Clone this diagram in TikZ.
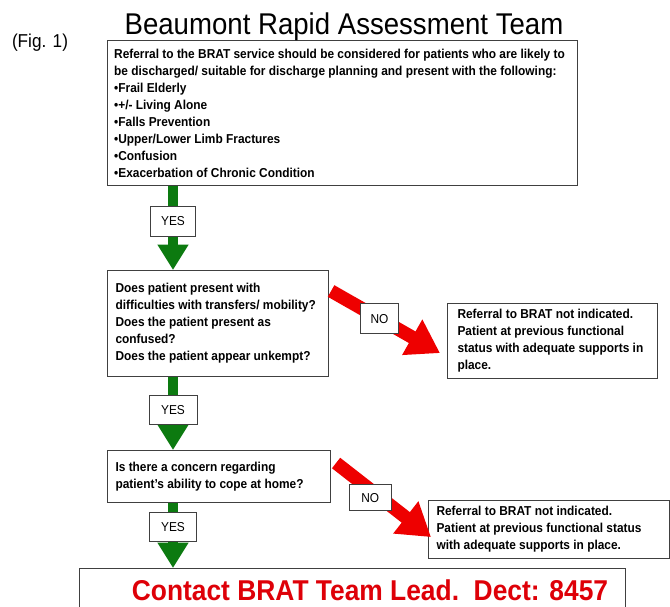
\documentclass[tikz,border=0pt]{standalone}
\usepackage{fontspec}
\setmainfont{Liberation Sans}[FakeStretch=0.92]
\usetikzlibrary{arrows.meta,calc}
\definecolor{bratgreen}{RGB}{12,122,16}
\definecolor{bratred}{RGB}{238,0,0}
\definecolor{leadred}{RGB}{222,0,8}

\begin{document}
\begin{tikzpicture}[x=0.75pt, y=-0.75pt,
  box/.style={draw=black!75, line width=0.8pt, fill=white, inner xsep=6pt, inner ysep=0pt,
    align=flush left, anchor=north west, font=\fontsize{9.7}{12.75}\selectfont\bfseries},
  tag/.style={draw=black!75, line width=0.7pt, fill=white, inner sep=0pt,
    minimum height=22pt, font=\fontsize{9.7}{11}\selectfont},
  yes/.style={draw=bratgreen, line width=7.5pt, -{Triangle[width=22pt, length=19pt]}},
  no/.style={draw=bratred, line width=10pt, -{Triangle[width=29pt, length=24pt]}}
]
\def\pxu{0.75pt}
\useasboundingbox (0,0) rectangle (670,606);

% === Boxes ===
\node[box, inner xsep=5pt, text width=456.5*\pxu, minimum height=145*\pxu] (referral) at (107,40)
  {Referral to the BRAT service should be considered for patients who are likely to\\
   be discharged/ suitable for discharge planning and present with the following:\\
   •Frail Elderly\\
   •+/- Living Alone\\
   •Falls Prevention\\
   •Upper/Lower Limb Fractures\\
   •Confusion\\
   •Exacerbation of Chronic Condition};

\node[box, text width=205*\pxu, minimum height=106*\pxu] (mobility) at (107,270)
  {Does patient present with\\
   difficulties with transfers/ mobility?\\
   Does the patient present as\\
   confused?\\
   Does the patient appear unkempt?};

\node[box, inner xsep=7.5pt, text width=190*\pxu, minimum height=75*\pxu] (notA) at (447,303)
  {Referral to BRAT not indicated.\\
   Patient at previous functional\\
   status with adequate supports in\\
   place.};

\node[box, text width=207*\pxu, minimum height=52*\pxu] (cope) at (107,450)
  {Is there a concern regarding\\
   patient’s ability to cope at home?};

\node[box, text width=225*\pxu, minimum height=58*\pxu] (notB) at (428,500)
  {Referral to BRAT not indicated.\\
   Patient at previous functional status\\
   with adequate supports in place.};

\node[box, text width=530*\pxu, minimum height=60*\pxu] (lead) at (79,568) {};
\node[font=\fontsize{21.5}{24}\selectfont\bfseries, text=leadred, anchor=base]
  (leadtext) at (370,600) {Contact BRAT Team Lead.\ \ Dect: 8457};

% === Headings ===
\node[font=\fontsize{14}{16}\selectfont, anchor=base] (fig) at (40,48) {(Fig. 1)};
\node[font=\fontsize{22.5}{26}\selectfont, anchor=base] (title) at (344,35)
  {Beaumont Rapid Assessment Team};

% === YES arrows ===
\coordinate (col) at (173,0);
\draw[yes] (referral.south -| col) -- node[tag, minimum width=45*\pxu, pos=0.42] (yesA) {YES}
  (mobility.north -| col);
\draw[yes] (mobility.south -| col) -- node[tag, minimum width=48*\pxu, pos=0.45] (yesB) {YES}
  (cope.north -| col);
\draw[yes] (cope.south -| col) -- node[tag, minimum width=47*\pxu, pos=0.37] (yesC) {YES}
  (lead.north -| col);

% === NO arrows ===
\draw[no] ($(mobility.north east)+(2,21)$) -- node[tag, minimum width=38*\pxu, pos=0.445] (noA) {NO}
  ($(notA.south west)+(-7,-26)$);
\draw[no] ($(cope.north east)+(5,13)$) -- node[tag, minimum width=42*\pxu, minimum height=26*\pxu,
  pos=0.36, yshift=-6pt] (noB) {NO} ($(notB.south west)+(3,-22)$);

\end{tikzpicture}
\end{document}
